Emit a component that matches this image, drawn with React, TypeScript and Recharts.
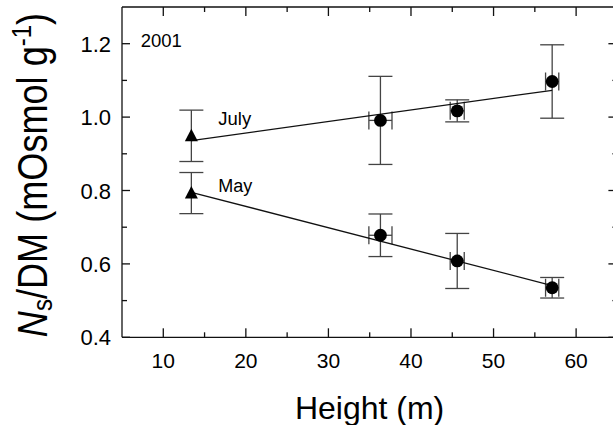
import React from "react";
import { ComposedChart, Scatter, XAxis, YAxis, ErrorBar } from "recharts";

// measured heights (m) and their spread, triangles = lowest sampling level
const heights = [13.4, 36.3, 45.6, 57.1];
const heightErr = [0, 1.4, 0.85, 0.8];
const markers = ["triangle", "circle", "circle", "circle"];

const julyValues = [0.949, 0.991, 1.017, 1.097];
const julyErr = [0.07, 0.12, 0.03, 0.1];
const mayValues = [0.793, 0.678, 0.608, 0.535];
const mayErr = [0.056, 0.058, 0.075, 0.028];

// regression lines
const fitHeights = [13.4, 57.1];
const julyFit = [0.936, 1.073];
const mayFit = [0.795, 0.541];

const xTicks = [10, 15, 20, 25, 30, 35, 40, 45, 50, 55, 60];
const yTicks = [0.4, 0.5, 0.6, 0.7, 0.8, 0.9, 1.0, 1.1, 1.2];

const FONT = "'Liberation Sans', Arial, Helvetica, sans-serif";
const INK = "#111";
const TW = 1.3; // tick width

const toPoints = (values: number[], errs: number[]) =>
  heights.map((h, i) => ({
    x: h,
    y: values[i],
    ex: heightErr[i],
    ey: errs[i],
    marker: markers[i],
  }));

const toLine = (values: number[]) =>
  fitHeights.map((h, i) => ({ x: h, y: values[i] }));

const julyData = toPoints(julyValues, julyErr);
const mayData = toPoints(mayValues, mayErr);

const isMajorX = (v: number) => v % 10 === 0;
const isMajorY = (v: number) => Math.round(v * 10) % 2 === 0;

const Marker = (props: any) => {
  const { cx, cy, payload } = props;
  if (payload.marker === "triangle") {
    return (
      <polygon
        points={`${cx},${cy - 7} ${cx - 6.5},${cy + 5.5} ${cx + 6.5},${cy + 5.5}`}
        fill="#000"
      />
    );
  }
  return <circle cx={cx} cy={cy} r={6.4} fill="#000" />;
};

// inward ticks drawn as thin rects, long for majors and short for minors
const bottomTick = (props: any) => {
  const x = Number(props.x);
  const y = Number(props.y);
  const major = isMajorX(props.payload.value);
  const len = major ? 9 : 5;
  return (
    <g>
      <rect x={x - TW / 2} y={y - len} width={TW} height={len} fill={INK} />
      {major && (
        <text
          x={x}
          y={y + 31}
          textAnchor="middle"
          fontSize={21}
          fontFamily={FONT}
          fill="#000"
        >
          {props.payload.value}
        </text>
      )}
    </g>
  );
};

const topTick = (props: any) => {
  const x = Number(props.x);
  const y = Number(props.y);
  const len = isMajorX(props.payload.value) ? 9 : 5;
  return <rect x={x - TW / 2} y={y} width={TW} height={len} fill={INK} />;
};

const leftTick = (props: any) => {
  const x = Number(props.x);
  const y = Number(props.y);
  const major = isMajorY(props.payload.value);
  const len = major ? 8 : 5;
  return (
    <g>
      <rect x={x} y={y - TW / 2} width={len} height={TW} fill={INK} />
      {major && (
        <text
          x={x - 11}
          y={y + 8}
          textAnchor="end"
          fontSize={22}
          fontFamily={FONT}
          fill="#000"
        >
          {props.payload.value.toFixed(1)}
        </text>
      )}
    </g>
  );
};

const rightTick = (props: any) => {
  const x = Number(props.x);
  const y = Number(props.y);
  const len = isMajorY(props.payload.value) ? 9 : 5;
  return <rect x={x - len} y={y - TW / 2} width={len} height={TW} fill={INK} />;
};

const axisLine = { stroke: INK, strokeWidth: 1.3 };
const errStyle = { stroke: "#444", strokeWidth: 1.3 };

export default function App() {
  return (
    <div
      style={{
        position: "absolute",
        left: 0,
        top: 0,
        width: 613,
        height: 425,
        overflow: "hidden",
        background: "#fff",
      }}
    >
      <ComposedChart
        width={630}
        height={425}
        margin={{ top: 6, right: 11.6, bottom: 0, left: 0 }}
      >
        <XAxis
          xAxisId={0}
          dataKey="x"
          type="number"
          domain={[5, 65]}
          ticks={xTicks}
          interval={0}
          height={87.7}
          tickSize={0}
          tickMargin={0}
          tickLine={false}
          axisLine={axisLine}
          tick={bottomTick}
        />
        <XAxis
          xAxisId="top"
          orientation="top"
          dataKey="x"
          type="number"
          domain={[5, 65]}
          ticks={xTicks}
          interval={0}
          height={1}
          tickSize={0}
          tickMargin={0}
          tickLine={false}
          axisLine={axisLine}
          tick={topTick}
        />
        <YAxis
          yAxisId={0}
          dataKey="y"
          type="number"
          domain={[0.4, 1.3]}
          ticks={yTicks}
          interval={0}
          width={122}
          tickSize={0}
          tickMargin={0}
          tickLine={false}
          axisLine={axisLine}
          tick={leftTick}
        />
        <YAxis
          yAxisId="right"
          orientation="right"
          dataKey="y"
          type="number"
          domain={[0.4, 1.3]}
          ticks={yTicks}
          interval={0}
          width={1}
          tickSize={0}
          tickMargin={0}
          tickLine={false}
          axisLine={axisLine}
          tick={rightTick}
        />

        {/* fit lines tied to the top/right frame axes (same domains) */}
        <Scatter
          data={toLine(julyFit)}
          xAxisId="top"
          yAxisId="right"
          line={{ stroke: INK, strokeWidth: 1.3 }}
          shape={() => <g />}
          isAnimationActive={false}
        />
        <Scatter
          data={toLine(mayFit)}
          xAxisId="top"
          yAxisId="right"
          line={{ stroke: INK, strokeWidth: 1.3 }}
          shape={() => <g />}
          isAnimationActive={false}
        />

        <Scatter data={julyData} shape={Marker} isAnimationActive={false}>
          <ErrorBar dataKey="ey" direction="y" width={12} {...errStyle} />
          <ErrorBar dataKey="ex" direction="x" width={9} {...errStyle} />
        </Scatter>
        <Scatter data={mayData} shape={Marker} isAnimationActive={false}>
          <ErrorBar dataKey="ey" direction="y" width={12} {...errStyle} />
          <ErrorBar dataKey="ex" direction="x" width={9} {...errStyle} />
        </Scatter>

        <text x={140.7} y={46.7} fontSize={18.5} fontFamily={FONT} fill="#000">
          2001
        </text>
        <text x={218.3} y={125} fontSize={18.5} fontFamily={FONT} fill="#000">
          July
        </text>
        <text x={218.3} y={191.7} fontSize={18} fontFamily={FONT} fill="#000">
          May
        </text>

        <text
          x={369.6}
          y={419}
          textAnchor="middle"
          fontSize={32}
          fontFamily={FONT}
          fill="#000"
        >
          Height (m)
        </text>
        <g transform="translate(47,175) rotate(-90) scale(0.86,1)">
          <text
            x={0}
            y={0}
            textAnchor="middle"
            fontSize={42}
            fontFamily={FONT}
            fill="#000"
          >
            <tspan fontStyle="italic">N</tspan>
            <tspan fontSize={28} dy={5}>
              s
            </tspan>
            <tspan dy={-5}>/DM (mOsmol g</tspan>
            <tspan fontSize={28} dy={-16}>
              -1
            </tspan>
            <tspan dy={16}>)</tspan>
          </text>
        </g>
      </ComposedChart>
    </div>
  );
}
